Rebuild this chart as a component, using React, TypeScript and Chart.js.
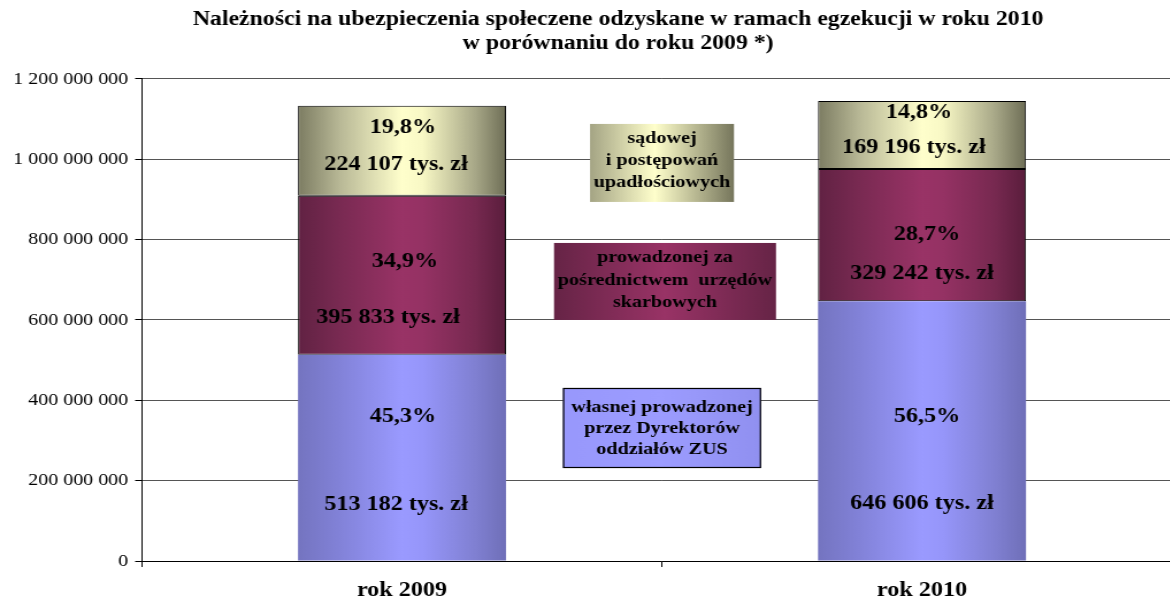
import React, { useEffect, useRef } from "react";
import { Chart, registerables } from "chart.js";

Chart.register(...registerables);

// ---------- data ----------
const categories = ["rok 2009", "rok 2010"];
const ownEnforcement = [513182000, 646606000];
const taxOfficeEnforcement = [395833000, 329242000];
const courtBankruptcy = [224107000, 169196000];
const ownShare = ["45,3%", "56,5%"];
const taxOfficeShare = ["34,9%", "28,7%"];
const courtShare = ["19,8%", "14,8%"];
const seriesNames = [
  ["własnej prowadzonej", "przez Dyrektorów", "oddziałów ZUS"],
  ["prowadzonej za", "pośrednictwem  urzędów", "skarbowych"],
  ["sądowej", "i postępowań", "upadłościowych"],
];
const titleLines = [
  "Należności na ubezpieczenia społeczene odzyskane w ramach egzekucji w roku 2010",
  "w porównaniu do roku 2009 *)",
];
const yMin = 0;
const yMax = 1200000000;
const yStep = 200000000;

// ---------- layout / style ----------
const STRETCH = 1.15;
const CANVAS_W = 1075;
const CANVAS_H = 602;
const BAR_PCT = 0.4;
const SERIF = "'Liberation Serif', 'Times New Roman', serif";

type Stops = [number, string][];
const BAR_STOPS: Stops[] = [
  [[0, "#7474c0"], [0.2, "#8282d8"], [0.5, "#9a9aff"], [0.6, "#9696fa"], [0.85, "#8080d2"], [1, "#6f6fb8"]],
  [[0, "#612243"], [0.2, "#792a52"], [0.5, "#993366"], [0.6, "#953264"], [0.85, "#772950"], [1, "#5a1d3c"]],
  [[0, "#7c7c62"], [0.2, "#b8b896"], [0.5, "#ffffcc"], [0.6, "#f8f8c5"], [0.85, "#a8a888"], [1, "#6e6e56"]],
];
const BOX_STOPS: Stops[] = [
  [[0, "#9898fc"], [0.5, "#9c9cff"], [1, "#9090f0"]],
  [[0, "#662446"], [0.5, "#993366"], [1, "#662446"]],
  [[0, "#a4a484"], [0.45, "#ffffcc"], [1, "#76765c"]],
];
// legend boxes: vertical extent in axis units, width in screen px
const BOX_LAYOUT = [
  { top: 430.7e6, bottom: 231.5e6, width: 198, dx: 0, gap: 21, shift: 2, border: true },
  { top: 791.7e6, bottom: 600e6, width: 222, dx: 3, gap: 22.5, shift: 1, border: false },
  { top: 1088e6, bottom: 893.8e6, width: 144, dx: 0, gap: 22, shift: 0, border: false },
];
// bar labels: [pct fraction of segment, amount fraction, pct dx, amount dx]
const LABEL_LAYOUT = [
  [[0.686, 0.262, 1, -6], [0.545, 0.21, 5, 0]],
  [[0.569, 0.22, 3, -14], [0.482, 0.191, 5, 0]],
  [[0.732, 0.315, 1, -6], [0.787, 0.28, -3, -8]],
];

const spaced = (n: number) => String(Math.round(n)).replace(/\B(?=(\d{3})+(?!\d))/g, " ");
const amountLabel = (v: number) => `${spaced(v / 1000)} tys. zł`;

function makeGrad(ctx: CanvasRenderingContext2D, x0: number, x1: number, stops: Stops) {
  const g = ctx.createLinearGradient(x0, 0, x1, 0);
  stops.forEach(([o, c]) => g.addColorStop(o, c));
  return g;
}

function barGrad(c: any, stops: Stops) {
  const chart = c.chart;
  const xs = chart.scales && chart.scales.x;
  if (c.type !== "data" || !xs || !chart.chartArea || !xs.width) return stops[2][1];
  const cx = xs.getPixelForValue(c.dataIndex);
  const half = ((xs.width / categories.length) * BAR_PCT) / 2;
  return makeGrad(chart.ctx, cx - half, cx + half, stops);
}

const overlayPlugin = {
  id: "overlay",
  afterDatasetsDraw(chart: any) {
    const ctx: CanvasRenderingContext2D = chart.ctx;
    const xs = chart.scales.x;
    const ys = chart.scales.y;
    const midX = (xs.getPixelForValue(0) + xs.getPixelForValue(1)) / 2;
    ctx.save();
    ctx.textAlign = "center";
    ctx.textBaseline = "middle";
    BOX_LAYOUT.forEach((b, i) => {
      const top = ys.getPixelForValue(b.top);
      const bottom = ys.getPixelForValue(b.bottom);
      const w = b.width / STRETCH;
      const cx = midX + b.dx / STRETCH;
      const left = cx - w / 2;
      ctx.fillStyle = makeGrad(ctx, left, left + w, BOX_STOPS[i]);
      ctx.fillRect(left, top, w, bottom - top);
      if (b.border) {
        ctx.strokeStyle = "#000";
        ctx.lineWidth = 1.2;
        ctx.strokeRect(left + 0.5, top + 0.5, w - 1, bottom - top - 1);
      }
      ctx.fillStyle = "#000";
      ctx.font = `bold 17.5px ${SERIF}`;
      const cy = (top + bottom) / 2 + b.shift;
      seriesNames[i].forEach((t, k) => ctx.fillText(t, cx, cy + (k - 1) * b.gap - 2));
    });
    const shares = [ownShare, taxOfficeShare, courtShare];
    ctx.font = `bold 21px ${SERIF}`;
    ctx.fillStyle = "#000";
    chart.data.datasets.forEach((ds: any, di: number) => {
      const meta = chart.getDatasetMeta(di);
      meta.data.forEach((el: any, j: number) => {
        const { y, base, x } = el.getProps(["x", "y", "base"], true);
        const h = base - y;
        const [pf, af, pdx, adx] = LABEL_LAYOUT[di][j];
        ctx.fillText(shares[di][j], x + pdx / STRETCH, base - pf * h - 2.5);
        ctx.fillText(amountLabel(ds.data[j]), x + adx / STRETCH, base - af * h - 2.5);
      });
    });
    ctx.restore();
  },
};

export default function App() {
  const ref = useRef<HTMLCanvasElement | null>(null);
  useEffect(() => {
    if (!ref.current) return;
    const seriesData = [ownEnforcement, taxOfficeEnforcement, courtBankruptcy];
    const chart = new Chart(ref.current, {
      type: "bar",
      data: {
        labels: categories,
        datasets: seriesData.map((d, i) => ({
          label: seriesNames[i].join(" "),
          data: d,
          backgroundColor: (c: any) => barGrad(c, BAR_STOPS[i]),
          borderColor: "#000",
          borderWidth: i === 0 ? 0 : 1,
          borderSkipped: false,
          barPercentage: BAR_PCT,
          categoryPercentage: 1,
        })),
      },
      options: {
        responsive: false,
        animation: false,
        devicePixelRatio: 1,
        layout: { padding: 0 },
        plugins: {
          legend: { display: false },
          tooltip: { enabled: false },
          title: {
            display: true,
            text: titleLines,
            color: "#000",
            font: { family: SERIF, size: 20.7, weight: "bold", lineHeight: 1.17 },
            padding: { top: 7.5, bottom: 23 },
          },
        },
        scales: {
          x: {
            stacked: true,
            offset: true,
            afterFit: (s: any) => {
              s.height = 41;
            },
            grid: { drawOnChartArea: false, offset: true, tickLength: 6, color: "#000" },
            border: { color: "#000" },
            ticks: { color: "#000", padding: 11, font: { family: SERIF, size: 21, weight: "bold" } },
          },
          y: {
            stacked: true,
            min: yMin,
            max: yMax,
            afterFit: (s: any) => {
              s.width = 123.5;
            },
            grid: { color: "#555", tickColor: "#000", tickLength: 6 },
            border: { color: "#000" },
            ticks: {
              stepSize: yStep,
              color: "#000",
              padding: 6,
              font: { family: SERIF, size: 17.4 },
              callback: (v: any) => spaced(Number(v)),
            },
          },
          spacer: {
            type: "linear",
            position: "right",
            display: true,
            afterFit: (s: any) => {
              s.width = 47.2;
            },
            grid: { display: false, drawTicks: false },
            border: { display: false },
            ticks: { display: false },
          },
        },
      },
      plugins: [overlayPlugin],
    });
    return () => chart.destroy();
  }, []);

  return (
    <div
      style={{
        position: "fixed",
        left: 0,
        top: 0,
        width: 1170,
        height: 602,
        overflow: "hidden",
        background: "#fff",
      }}
    >
      <div style={{ transform: `scaleX(${STRETCH})`, transformOrigin: "0 0", width: CANVAS_W, height: CANVAS_H }}>
        <canvas ref={ref} width={CANVAS_W} height={CANVAS_H} style={{ display: "block" }} />
      </div>
    </div>
  );
}
